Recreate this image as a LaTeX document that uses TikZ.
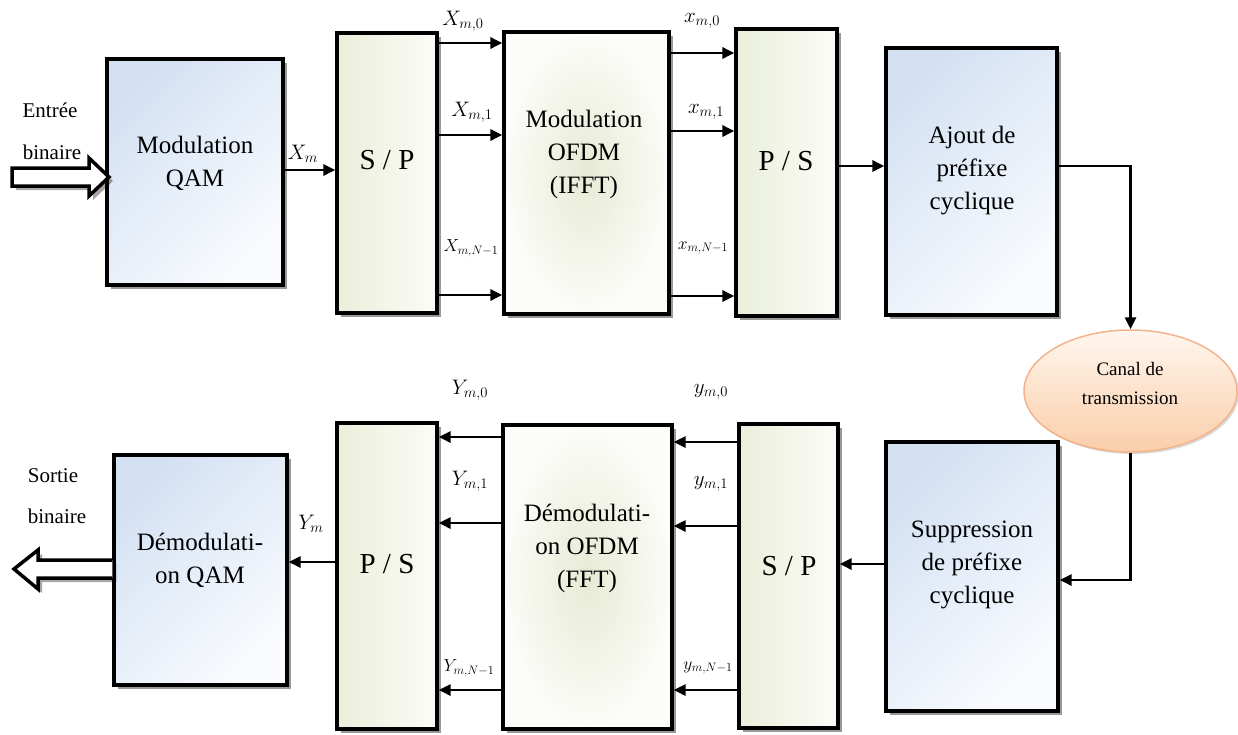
\RequirePackage{fix-cm}
\documentclass[tikz,border=0pt]{standalone}
\usepackage{fontspec}
\setmainfont{Liberation Serif}
\usetikzlibrary{arrows.meta,shadows,shapes.geometric,calc}
\definecolor{bluetl}{RGB}{212,225,243}
\definecolor{bluebr}{RGB}{249,251,254}
\definecolor{greenl}{RGB}{234,239,218}
\definecolor{greenr}{RGB}{251,252,247}
\definecolor{greenc}{RGB}{230,235,212}
\definecolor{greeno}{RGB}{252,252,249}
\definecolor{peachtop}{RGB}{255,246,238}
\definecolor{peachbot}{RGB}{250,206,170}
\definecolor{peachline}{RGB}{243,180,140}
\begin{document}
\begin{tikzpicture}[x=1pt,y=-1pt,
  shad/.style={drop shadow={shadow xshift=4pt,shadow yshift=-4pt,fill=black,opacity=0.4}},
  bluebox/.style={draw=black,line width=3.2pt,shad,shading=axis,top color=bluetl,bottom color=bluebr,shading angle=45,inner sep=0pt},
  greenbox/.style={draw=black,line width=3.2pt,shad,left color=greenl,right color=greenr,inner sep=0pt},
  radbox/.style={draw=black,line width=3.2pt,shad,inner color=greenc,outer color=greeno,inner sep=0pt},
  boxtext/.style={align=center,font=\fontsize{25}{33}\selectfont,inner sep=0pt},
  bigtext/.style={font=\fontsize{29}{33}\selectfont,inner sep=0pt},
  sidetext/.style={font=\fontsize{21}{25}\selectfont,inner sep=0pt},
  lab/.style={font=\fontsize{21}{24}\selectfont,inner sep=0pt},
  labs/.style={font=\fontsize{17.5}{20}\selectfont,inner sep=0pt},
  arr/.style={line width=2.8pt,-{Triangle[length=12pt,width=11pt]}},
  hollow/.style={line width=3.5pt,fill=white,line join=miter,drop shadow={shadow xshift=4pt,shadow yshift=-4pt,fill=black,opacity=0.35}}
]
\useasboundingbox (0,0) rectangle (1238,734);
% ---- top row boxes
\node[bluebox,minimum width=176pt,minimum height=226pt] (qam) at (195,172) {};
\node[greenbox,minimum width=100pt,minimum height=280pt] (sp1) at (387,173) {};
\node[radbox,minimum width=165pt,minimum height=282pt] (ofdm1) at (586.5,173) {};
\node[greenbox,minimum width=101pt,minimum height=287pt] (ps1) at (786.5,172.5) {};
\node[bluebox,minimum width=171pt,minimum height=267pt] (ajout) at (971.5,181.5) {};
\node[ellipse,draw=peachline,line width=1.5pt,top color=peachtop,bottom color=peachbot,minimum width=213pt,minimum height=122pt,drop shadow={shadow xshift=2pt,shadow yshift=-2pt,fill=black,opacity=0.15}] (canal) at (1130.5,391) {};
% ---- bottom row boxes
\node[bluebox,minimum width=172pt,minimum height=269pt] (supp) at (972,576.5) {};
\node[greenbox,minimum width=99pt,minimum height=304pt] (sp2) at (788.5,576) {};
\node[radbox,minimum width=169pt,minimum height=304pt] (ofdm2) at (587.5,577) {};
\node[greenbox,minimum width=100pt,minimum height=306pt] (ps2) at (387,576) {};
\node[bluebox,minimum width=173pt,minimum height=230pt] (dqam) at (200.5,570) {};
% ---- box texts
\node[boxtext] (tqam) at (195,163) {Modulation\\QAM};
\node[bigtext] (tsp1) at (387,160) {S / P};
\node[boxtext] (tofdm1) at (584,154) {Modulation\\OFDM\\(IFFT)};
\node[bigtext] (tps1) at (786,161) {P / S};
\node[boxtext] (tajout) at (972,171) {Ajout de\\préfixe\\cyclique};
\node[align=center,font=\fontsize{19}{29}\selectfont,inner sep=0pt] (tcanal) at (1130,383) {Canal de\\transmission};
\node[boxtext] (tsupp) at (972,565) {Suppression\\de préfixe\\cyclique};
\node[bigtext] (tsp2) at (789,566) {S / P};
\node[boxtext] (tofdm2) at (587,548) {Démodulati-\\on OFDM\\(FFT)};
\node[bigtext] (tps2) at (387,564) {P / S};
\node[boxtext] (tdqam) at (200,560) {Démodulati-\\on QAM};
% ---- side texts
\node[sidetext] (entree) at (50,110) {Entrée};
\node[sidetext] (bin1) at (52,152) {binaire};
\node[sidetext] (sortie) at (53,476) {Sortie};
\node[sidetext] (bin2) at (57,516) {binaire};
% ---- level coordinates
\coordinate (yq) at (0,170);
\coordinate (ya) at (0,43);
\coordinate (yb) at (0,135);
\coordinate (yc) at (0,295);
\coordinate (yd) at (0,53);
\coordinate (ye) at (0,131);
\coordinate (yf) at (0,296);
\coordinate (yg) at (0,166);
\coordinate (yh) at (0,580);
\coordinate (yi) at (0,564);
\coordinate (yj) at (0,442);
\coordinate (yk) at (0,526);
\coordinate (yl) at (0,690);
\coordinate (ym) at (0,437);
\coordinate (yn) at (0,523);
\coordinate (yo) at (0,690);
\coordinate (yp) at (0,562);
% ---- top connectors
\draw[arr] (qam.east |- yq) -- (sp1.west |- yq);
\draw[arr] (sp1.east |- ya) -- (ofdm1.west |- ya);
\draw[arr] (sp1.east |- yb) -- (ofdm1.west |- yb);
\draw[arr] (sp1.east |- yc) -- (ofdm1.west |- yc);
\draw[arr] (ofdm1.east |- yd) -- (ps1.west |- yd);
\draw[arr] (ofdm1.east |- ye) -- (ps1.west |- ye);
\draw[arr] (ofdm1.east |- yf) -- (ps1.west |- yf);
\draw[arr] (ps1.east |- yg) -- (ajout.west |- yg);
\draw[arr] (ajout.east |- yg) -| (canal.north);
\draw[arr] (canal.south) |- (supp.east |- yh);
% ---- bottom connectors
\draw[arr] (supp.west |- yi) -- (sp2.east |- yi);
\draw[arr] (sp2.west |- yj) -- (ofdm2.east |- yj);
\draw[arr] (sp2.west |- yk) -- (ofdm2.east |- yk);
\draw[arr] (sp2.west |- yl) -- (ofdm2.east |- yl);
\draw[arr] (ofdm2.west |- ym) -- (ps2.east |- ym);
\draw[arr] (ofdm2.west |- yn) -- (ps2.east |- yn);
\draw[arr] (ofdm2.west |- yo) -- (ps2.east |- yo);
\draw[arr] (ps2.west |- yp) -- (dqam.east |- yp);
% ---- hollow arrows
\draw[hollow] (12,168) -- (89,168) -- (89,158) -- (109,177) -- (89,196) -- (89,186) -- (12,186) -- cycle;
\draw[hollow] (dqam.west |- 0,560) -- (38,560) -- (38,550) -- (14,569) -- (38,589) -- (38,578) -- (dqam.west |- 0,578);
% ---- signal labels
\node[lab] (lXm) at (303,154) {$X_m$};
\node[lab] (lX0) at (463,21) {$X_{m,0}$};
\node[lab] (lX1) at (472,112) {$X_{m,1}$};
\node[labs] (lXN) at (471,248) {$X_{m,N-1}$};
\node[lab] (lx0) at (702,21) {$x_{m,0}$};
\node[lab] (lx1) at (706,112) {$x_{m,1}$};
\node[labs] (lxN) at (703,248) {$x_{m,N-1}$};
\node[lab] (lY0) at (470,390) {$Y_{m,0}$};
\node[lab] (lY1) at (470,481) {$Y_{m,1}$};
\node[labs] (lYN) at (469,668) {$Y_{m,N-1}$};
\node[lab] (ly0) at (711,392) {$y_{m,0}$};
\node[lab] (ly1) at (711,484) {$y_{m,1}$};
\node[labs] (lyN) at (708,668) {$y_{m,N-1}$};
\node[lab] (lYm) at (311,524) {$Y_m$};
\end{tikzpicture}
\end{document}
